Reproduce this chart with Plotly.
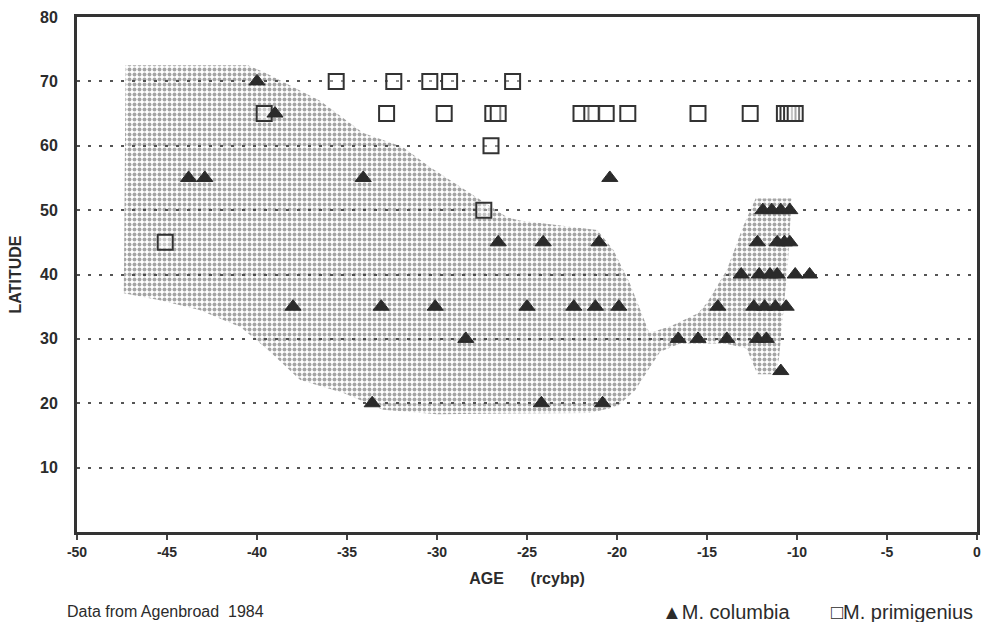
import plotly.graph_objects as go

# ---- data ----
columbia_age = [-40.0, -39.0, -43.8, -42.9, -34.1, -20.4,
                -38.0, -33.1, -30.1, -25.0, -22.4, -21.2, -19.9,
                -26.6, -24.1, -21.0,
                -28.4,
                -33.6, -24.2, -20.8,
                -16.6, -15.5, -13.9, -12.2, -11.7,
                -10.9,
                -14.4, -12.4, -11.8, -11.2, -10.6,
                -13.1, -12.1, -11.5, -11.1, -10.1, -9.3,
                -12.2, -11.1, -10.7, -10.4,
                -11.9, -11.4, -10.9, -10.4]
columbia_lat = [70, 65, 55, 55, 55, 55,
                35, 35, 35, 35, 35, 35, 35,
                45, 45, 45,
                30,
                20, 20, 20,
                30, 30, 30, 30, 30,
                25,
                35, 35, 35, 35, 35,
                40, 40, 40, 40, 40, 40,
                45, 45, 45, 45,
                50, 50, 50, 50]

primigenius_age = [-45.1, -39.6,
                   -35.6, -32.4, -30.4, -29.3, -25.8,
                   -32.8, -29.6, -26.9, -26.6, -22.0, -21.4, -20.6, -19.4,
                   -15.5, -12.6, -10.7, -10.5, -10.3, -10.1,
                   -27.0, -27.4]
primigenius_lat = [45, 65,
                   70, 70, 70, 70, 70,
                   65, 65, 65, 65, 65, 65, 65, 65,
                   65, 65, 65, 65, 65, 65,
                   60, 50]

# outline of the shaded range
range_age = [-47.3, -40.5, -39.6, -36.5, -34.1, -31.9, -30.4, -27.6, -26.1, -25.4,
             -21.1, -20.2, -19.3, -18.2, -17.0, -15.5, -15.0, -13.9, -13.0, -12.3,
             -10.3, -10.5, -10.7, -10.8, -11.0, -11.2, -12.2, -12.8, -14.0, -16.5,
             -17.6, -18.3, -19.0, -20.0, -21.5, -30.0, -33.0, -35.2, -37.6, -39.4,
             -40.9, -43.2, -45.4, -47.4]
range_lat = [72.5, 72.5, 71.4, 67.0, 62.0, 59.8, 56.7, 51.6, 48.9, 48.4,
             46.9, 43.8, 38.7, 30.9, 32.0, 34.0, 35.6, 40.7, 47.4, 51.8,
             51.8, 42.0, 36.0, 32.0, 27.0, 24.5, 24.5, 28.5, 29.3, 29.3,
             28.0, 25.0, 22.0, 19.5, 18.5, 18.3, 19.0, 21.6, 23.6, 28.3,
             31.8, 34.5, 36.0, 37.1]

x_ticks = [-50, -45, -40, -35, -30, -25, -20, -15, -10, -5, 0]
y_ticks = [10, 20, 30, 40, 50, 60, 70, 80]

FONT = "Liberation Sans, Arial, sans-serif"
INK = "#2b2b2b"

fig = go.Figure()

fig.add_trace(go.Scatter(
    x=range_age, y=range_lat, mode="lines", fill="toself",
    line=dict(width=0, color="rgba(0,0,0,0)"),
    fillcolor="rgba(0,0,0,0)",
    fillpattern=dict(shape=".", size=5, solidity=0.5, fgcolor="#4a4a4a",
                     bgcolor="rgba(255,255,255,0)"),
    hoverinfo="skip", showlegend=False, name="range"))

fig.add_trace(go.Scatter(
    x=primigenius_age, y=primigenius_lat, mode="markers", name="M. primigenius",
    marker=dict(symbol="square", size=15, color="rgba(255,255,255,0.35)",
                line=dict(width=2, color="#333333")),
    showlegend=False))

fig.add_trace(go.Scatter(
    x=columbia_age, y=columbia_lat, mode="markers", name="M. columbia",
    marker=dict(symbol="triangle-up", size=14, color=INK,
                line=dict(width=1, color=INK)),
    showlegend=False))

fig.update_xaxes(
    range=[-50, 0], tickvals=x_ticks, ticktext=[str(v) for v in x_ticks],
    showgrid=False, zeroline=False, automargin=False, ticklabeloverflow="allow",
    showline=True, linewidth=3, linecolor="#333333", mirror=True,
    ticks="outside", ticklen=5, tickwidth=2, tickcolor="#444444",
    tickfont=dict(family=FONT, size=14, color=INK, weight="bold"),
    title=dict(text="AGE      (rcybp)",
               font=dict(family=FONT, size=16, color=INK, weight="bold")),
)
fig.update_yaxes(
    range=[0, 80], tickvals=y_ticks, ticktext=[str(v) for v in y_ticks],
    showgrid=True, gridcolor="#555555", gridwidth=2, griddash="3px,8px",
    zeroline=False, automargin=False,
    showline=True, linewidth=3, linecolor="#333333", mirror=True,
    ticks="", ticklabelstandoff=13,
    tickfont=dict(family=FONT, size=16, color=INK, weight="bold"),
    title=dict(text="LATITUDE",
               font=dict(family=FONT, size=16, color=INK, weight="bold")),
)

fig.add_annotation(text="Data from Agenbroad  1984", xref="paper", yref="paper",
                   x=-0.0133, y=-0.1553, xanchor="left", yanchor="middle", showarrow=False,
                   font=dict(family=FONT, size=16, color=INK))
fig.add_annotation(text="▲M. columbia", xref="paper", yref="paper",
                   x=0.6478, y=-0.1553, xanchor="left", yanchor="middle", showarrow=False,
                   font=dict(family=FONT, size=20, color=INK))
fig.add_annotation(text="□M. primigenius", xref="paper", yref="paper",
                   x=0.9978, y=-0.1553, xanchor="right", yanchor="middle", showarrow=False,
                   font=dict(family=FONT, size=20, color=INK))

fig.update_layout(
    width=985, height=622,
    margin=dict(l=77, r=8, t=17, b=90, autoexpand=False),
    plot_bgcolor="white", paper_bgcolor="white",
    showlegend=False,
)

fig.write_html("out.html", config={"displayModeBar": False},
               post_script="document.body.style.margin='0';document.body.style.overflow='hidden';")
